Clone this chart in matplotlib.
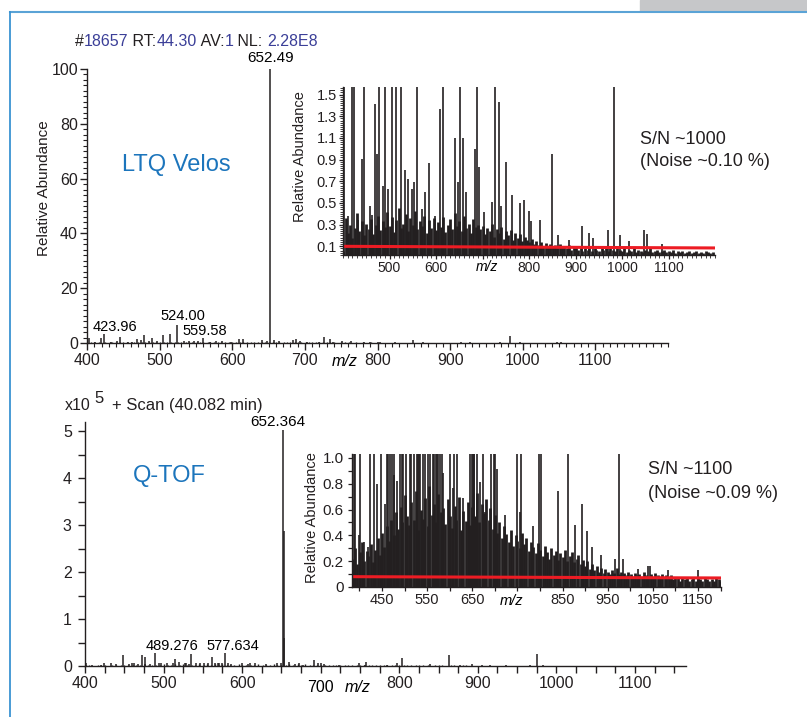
import numpy as np
import matplotlib.pyplot as plt
from matplotlib.ticker import MultipleLocator
from matplotlib.lines import Line2D
from matplotlib.patches import Rectangle

plt.rcParams['font.family'] = ['Liberation Sans', 'DejaVu Sans']

W, H = 807, 717
INK = '#231f20'
BLUE = '#1c75bc'
NAVY = '#3b3f98'
RED = '#ed1c24'

# ---- LTQ Velos spectrum, relative abundance in % ----
ltq_mz = [403, 411, 419, 423.96, 433, 441, 446, 457, 462, 469,
          474, 478, 485, 490, 497, 505, 514, 524.00, 533, 540,
          548, 553, 559.58, 569, 577, 586, 598, 609, 615, 641,
          648, 652.49, 657, 665, 684, 688, 693, 703, 720, 727,
          735, 739, 751, 763, 781, 789, 800, 804, 824, 849,
          863, 887, 915, 928, 937, 969, 983, 996, 1014, 1047,
          1053, 1085]
ltq_ab = [1.7, 0.38, 1.9, 3.3, 0.34, 0.91, 2.2, 0.47, 0.39, 1.41,
          0.95, 2.9, 0.66, 1.8, 0.63, 3.1, 3.3, 6.6, 0.80, 0.72,
          0.63, 0.69, 1.9, 0.44, 0.60, 0.87, 0.38, 1.37, 1.6, 1.1,
          0.69, 100, 1.1, 0.60, 1.0, 1.6, 0.83, 0.42, 0.51, 2.3,
          1.43, 0.47, 0.88, 0.57, 0.50, 0.53, 0.43, 0.33, 0.34, 0.95,
          0.20, 0.16, 0.29, 0.22, 0.18, 0.25, 2.6, 0.20, 0.15, 0.25,
          0.21, 0.12]

ltq_noise_mz = [401, 406, 410, 416, 420, 425, 431, 435, 440, 446, 450, 455, 461, 465, 470, 476, 480, 485, 491, 495,
                500, 506, 510, 515, 521, 525, 530, 536, 540, 545, 551, 555, 560, 566, 570, 575, 581, 585, 590, 596,
                600, 605, 611, 615, 620, 626, 630, 635, 641, 645, 650, 656, 660, 665, 671, 675, 680, 686, 690, 695,
                701, 705, 710, 716, 720, 725, 731, 735, 740, 746, 750, 755, 761, 765, 770, 776, 780, 785, 791, 795,
                800, 806, 810, 815, 821, 825, 830, 836, 840, 845, 851, 855, 860, 866, 870, 875, 881, 885, 890, 896,
                900, 905, 911, 915, 920, 926, 930, 935, 941, 945, 950, 956, 960, 965, 971, 975, 980, 986, 990, 995,
                1001, 1005, 1010, 1016, 1020, 1025, 1031, 1035, 1040, 1046, 1050, 1055, 1061, 1065, 1070, 1076, 1080, 1085, 1091, 1095,
                1100, 1106, 1110, 1115, 1121, 1125, 1130, 1136, 1140, 1145, 1151, 1155, 1160, 1166, 1170, 1175, 1181, 1185, 1190, 1196]
ltq_noise_ab = [0.06, 0.36, 0.22, 0.30, 0.18, 0.27, 0.41, 0.24, 0.33, 0.20, 0.31, 0.26, 0.35, 0.21, 0.30, 0.38, 0.25, 0.33, 0.28, 0.42,
                0.29, 0.37, 0.23, 0.34, 0.45, 0.27, 0.31, 0.40, 0.24, 0.36, 0.30, 0.43, 0.26, 0.33, 0.29, 0.38, 0.22, 0.34, 0.27, 0.36,
                0.25, 0.32, 0.28, 0.37, 0.23, 0.30, 0.35, 0.26, 0.41, 0.29, 0.33, 0.24, 0.38, 0.27, 0.31, 0.22, 0.35, 0.28, 0.30, 0.26,
                0.29, 0.21, 0.27, 0.24, 0.31, 0.19, 0.26, 0.22, 0.28, 0.17, 0.24, 0.20, 0.25, 0.16, 0.22, 0.18, 0.21, 0.15, 0.19, 0.16,
                0.14, 0.17, 0.12, 0.15, 0.11, 0.14, 0.10, 0.13, 0.09, 0.12, 0.10, 0.11, 0.08, 0.12, 0.09, 0.10, 0.08, 0.11, 0.07, 0.09,
                0.10, 0.07, 0.09, 0.06, 0.08, 0.07, 0.09, 0.06, 0.08, 0.07, 0.06, 0.08, 0.07, 0.09, 0.06, 0.08, 0.07, 0.06, 0.08, 0.07,
                0.06, 0.08, 0.05, 0.07, 0.06, 0.08, 0.05, 0.07, 0.06, 0.05, 0.07, 0.06, 0.08, 0.05, 0.06, 0.07, 0.05, 0.06, 0.07, 0.05,
                0.06, 0.05, 0.07, 0.04, 0.06, 0.05, 0.06, 0.04, 0.05, 0.06, 0.04, 0.05, 0.06, 0.04, 0.05, 0.04, 0.06, 0.05, 0.04, 0.05]

ltq_line_mz = [400, 1200]
ltq_line_ab = [0.10, 0.085]

# ---- Q-TOF spectrum, relative abundance in % (base peak = 5.04 x10^5) ----
qtof_base = 5.04
qtof_mz = [387, 390, 398, 401, 409, 420, 424, 433, 439, 448,
           456, 460, 463, 468, 472, 476, 477, 483, 489.276, 494,
           497, 504, 512, 515, 520, 527, 529, 533, 535, 541,
           546, 551, 556, 562, 565, 569, 571, 574, 577.634, 582,
           586, 600, 608, 610, 616, 630, 645, 649, 652.364, 652.86,
           653.37, 660, 667, 673, 678, 692, 697, 701, 704, 723,
           749, 756, 758, 785, 797, 803, 839, 863, 877, 892,
           905, 916, 936, 966, 975, 983, 1017, 1040, 1043, 1084,
           1150]
qtof_ab = [1.3, 1.1, 0.40, 1.2, 0.35, 0.31, 1.1, 1.2, 0.80, 4.6,
           0.64, 1.1, 1.3, 1.05, 4.6, 0.87, 3.6, 0.82, 5.3, 1.4,
           1.1, 1.2, 1.3, 2.8, 1.5, 1.1, 1.2, 1.05, 5.0, 1.3,
           1.2, 1.1, 1.4, 3.9, 1.2, 1.1, 1.3, 1.1, 5.3, 1.2,
           0.88, 1.1, 0.77, 1.3, 1.1, 0.69, 1.4, 1.2, 100, 57,
           12, 1.6, 0.81, 1.3, 0.58, 2.5, 1.2, 1.1, 0.91, 0.56,
           1.2, 0.58, 1.5, 0.47, 1.1, 3.2, 0.74, 4.6, 0.48, 0.64,
           0.43, 0.31, 0.25, 0.22, 5.1, 0.22, 0.14, 0.16, 0.16, 0.13,
           0.13]

qtof_noise_mz = [386, 390, 395, 401, 405, 410, 416, 420, 425, 431, 435, 440, 446, 450, 455, 461, 465, 470, 476, 480,
                 485, 491, 495, 500, 506, 510, 515, 521, 525, 530, 536, 540, 545, 551, 555, 560, 566, 570, 575, 581,
                 585, 590, 596, 600, 605, 611, 615, 620, 626, 630, 635, 641, 645, 650, 656, 660, 665, 671, 675, 680,
                 686, 690, 695, 701, 705, 710, 716, 720, 725, 731, 735, 740, 746, 750, 755, 761, 765, 770, 776, 780,
                 785, 791, 795, 800, 806, 810, 815, 821, 825, 830, 836, 840, 845, 851, 855, 860, 866, 870, 875, 881,
                 885, 890, 896, 900, 905, 911, 915, 920, 926, 930, 935, 941, 945, 950, 956, 960, 965, 971, 975, 980,
                 986, 990, 995, 1001, 1005, 1010, 1016, 1020, 1025, 1031, 1035, 1040, 1046, 1050, 1055, 1061, 1065, 1070, 1076, 1080,
                 1085, 1091, 1095, 1100, 1106, 1110, 1115, 1121, 1125, 1130, 1136, 1140, 1145, 1151, 1155, 1160, 1166, 1170, 1175, 1181,
                 1185, 1190, 1196, 1199]
qtof_noise_ab = [0.22, 0.30, 0.18, 0.27, 0.35, 0.20, 0.28, 0.24, 0.33, 0.19, 0.29, 0.38, 0.25, 0.42, 0.31, 0.47, 0.36, 0.52, 0.40, 0.58,
                 0.45, 0.62, 0.50, 0.71, 0.55, 0.48, 0.66, 0.52, 0.74, 0.44, 0.60, 0.53, 0.69, 0.47, 0.78, 0.56, 0.64, 0.50, 0.72, 0.58,
                 0.61, 0.49, 0.68, 0.55, 0.46, 0.63, 0.52, 0.70, 0.44, 0.59, 0.51, 0.66, 0.48, 0.62, 0.55, 0.73, 0.50, 0.64, 0.57, 0.68,
                 0.52, 0.61, 0.45, 0.56, 0.42, 0.50, 0.38, 0.47, 0.41, 0.35, 0.44, 0.32, 0.40, 0.36, 0.30, 0.42, 0.33, 0.38, 0.28, 0.35,
                 0.31, 0.26, 0.34, 0.29, 0.24, 0.32, 0.27, 0.22, 0.30, 0.25, 0.28, 0.21, 0.26, 0.23, 0.29, 0.20, 0.24, 0.27, 0.19, 0.22,
                 0.25, 0.18, 0.21, 0.16, 0.20, 0.14, 0.18, 0.13, 0.16, 0.12, 0.15, 0.11, 0.14, 0.12, 0.10, 0.13, 0.11, 0.15, 0.10, 0.12,
                 0.11, 0.09, 0.12, 0.10, 0.08, 0.11, 0.09, 0.10, 0.08, 0.12, 0.09, 0.07, 0.10, 0.08, 0.11, 0.09, 0.07, 0.10, 0.08, 0.09,
                 0.07, 0.09, 0.06, 0.08, 0.07, 0.05, 0.08, 0.06, 0.07, 0.05, 0.06, 0.08, 0.05, 0.07, 0.06, 0.05, 0.07, 0.06, 0.05, 0.06,
                 0.05, 0.07, 0.06, 0.05]

qtof_line_mz = [385, 1200]
qtof_line_ab = [0.08, 0.07]

main_ticks = [400, 500, 600, 700, 800, 900, 1000, 1100]

fig = plt.figure(figsize=(W / 100, H / 100), dpi=100)


def px_axes(x0, y0, x1, y1):
    ax = fig.add_axes([x0 / W, 1 - y1 / H, (x1 - x0) / W, (y1 - y0) / H])
    ax.patch.set_alpha(0)
    for s in ('top', 'right'):
        ax.spines[s].set_visible(False)
    for s in ('left', 'bottom'):
        ax.spines[s].set_color(INK)
        ax.spines[s].set_linewidth(1.0)
    ax.tick_params(which='both', direction='out', colors=INK)
    return ax


def ftext(x, y, s, **kw):
    return fig.text(x / W, 1 - y / H, s, color=kw.pop('color', INK), **kw)


# ---------------- top: LTQ Velos ----------------
ax1 = px_axes(87, 69, 668, 343)
ax1.vlines(ltq_noise_mz, 0, ltq_noise_ab, color=INK, lw=1.0)
ax1.vlines(ltq_mz, 0, ltq_ab, color=INK, lw=1.1)
ax1.set_xlim(400, 1200)
ax1.set_ylim(0, 100)
ax1.set_xticks(main_ticks)
ax1.xaxis.set_minor_locator(MultipleLocator(10))
ax1.yaxis.set_major_locator(MultipleLocator(20))
ax1.yaxis.set_minor_locator(MultipleLocator(2))
ax1.tick_params(which='major', length=5, width=1, labelsize=11.5, pad=2)
ax1.tick_params(axis='y', which='major', pad=1.5)
ax1.tick_params(which='minor', length=3, width=0.8)
ax1.text(755, -0.066, 'm/z', style='italic', fontsize=11.5, ha='center', va='center',
         transform=ax1.get_xaxis_transform())
ax1.text(652.49, 101.5, '652.49', fontsize=11, ha='center', va='bottom')
ax1.text(408, 5.8, '423.96', fontsize=10.5, ha='left', va='center')
ax1.text(532, 9.9, '524.00', fontsize=10.5, ha='center', va='center')
ax1.text(562.5, 4.4, '559.58', fontsize=10.5, ha='center', va='center')
ftext(44, 188, 'Relative Abundance', rotation=90, ha='center', va='center', fontsize=11)
ftext(122, 165, 'LTQ Velos', color=BLUE, fontsize=17, ha='left', va='center')

# header with coloured values
rend = fig.canvas.get_renderer()
hx = 75
for s, c in [('#', INK), ('18657', NAVY), (' RT:', INK), ('44.30', NAVY),
             (' AV:', INK), ('1', NAVY), (' NL: ', INK), ('2.28E8', NAVY)]:
    t = ftext(hx, 46, s, color=c, fontsize=11.5, ha='left', va='baseline')
    hx += t.get_window_extent(rend).width

# inset
ax2 = px_axes(343, 87, 715, 255)
ax2.vlines(ltq_noise_mz, 0, ltq_noise_ab, color=INK, lw=2.0)
ax2.vlines(ltq_mz, 0, ltq_ab, color=INK, lw=1.2)
ax2.plot(ltq_line_mz, ltq_line_ab, color=RED, lw=2.2)
ax2.set_xlim(400, 1200)
ax2.set_ylim(0.02, 1.57)
ax2.set_yticks([0.1, 0.3, 0.5, 0.7, 0.9, 1.1, 1.3, 1.5])
ax2.set_yticklabels(['0.1', '0.3', '0.5', '0.7', '0.9', '1.1', '1.3', '1.5'])
ax2.yaxis.set_minor_locator(MultipleLocator(0.02))
ax2.set_xticks([500, 600, 700, 800, 900, 1000, 1100])
ax2.set_xticklabels(['500', '600', '', '800', '900', '1000', '1100'])
ax2.xaxis.set_minor_locator(MultipleLocator(10))
ax2.tick_params(which='major', length=3, width=0.9, labelsize=10, pad=1.5)
ax2.tick_params(axis='y', which='major', labelsize=10.5)
ax2.tick_params(which='minor', length=2, width=0.6)
ax2.text(710, -0.071, 'm/z', style='italic', fontsize=10, ha='center', va='center',
         transform=ax2.get_xaxis_transform())
ftext(300, 157, 'Relative Abundance', rotation=90, ha='center', va='center', fontsize=10.5)
ftext(640, 140, 'S/N ~1000', fontsize=13, ha='left', va='center')
ftext(640, 162, '(Noise ~0.10 %)', fontsize=13, ha='left', va='center')

# ---------------- bottom: Q-TOF ----------------
qtof_abs = np.array(qtof_ab) * qtof_base / 100
qtof_noise_abs = np.array(qtof_noise_ab) * qtof_base / 100

ax3 = px_axes(85, 422, 686, 666)
ax3.vlines(qtof_noise_mz, 0, qtof_noise_abs, color=INK, lw=1.0)
ax3.vlines(qtof_mz, 0, qtof_abs, color=INK, lw=1.1)
ax3.set_xlim(400, 1165)
ax3.set_ylim(0, 5.2)
ax3.set_xticks(main_ticks)
ax3.set_xticklabels(['400', '500', '600', '', '800', '900', '1000', '1100'])
ax3.xaxis.set_minor_locator(MultipleLocator(25))
ax3.set_yticks([0, 1, 2, 3, 4, 5])
ax3.yaxis.set_minor_locator(MultipleLocator(0.5))
ax3.tick_params(which='both', length=5, width=1)
ax3.tick_params(which='major', labelsize=11.5, pad=2.5)
ax3.tick_params(axis='y', which='major', pad=4.5)
ax3.text(700, -0.09, '700', fontsize=11.5, ha='center', va='center',
         transform=ax3.get_xaxis_transform())
ax3.text(746.5, -0.09, 'm/z', style='italic', fontsize=11.5, ha='center', va='center',
         transform=ax3.get_xaxis_transform())
ax3.text(646, 5.21, '652.364', fontsize=11, ha='center', va='center')
ax3.text(511, 0.43, '489.276', fontsize=10.5, ha='center', va='center')
ax3.text(588.5, 0.43, '577.634', fontsize=10.5, ha='center', va='center')
ftext(133, 476, 'Q-TOF', color=BLUE, fontsize=17, ha='left', va='center')
ftext(65, 410, 'x10', fontsize=11.5, ha='left', va='baseline')
ftext(94, 403, '5', fontsize=12, ha='left', va='baseline')
ftext(112, 410, '+ Scan (40.082 min)', fontsize=12, ha='left', va='baseline')

# inset
ax4 = px_axes(352, 454, 721, 587)
ax4.vlines(qtof_noise_mz, 0, qtof_noise_ab, color=INK, lw=2.0)
ax4.vlines(qtof_mz, 0, qtof_ab, color=INK, lw=1.2)
ax4.plot(qtof_line_mz, qtof_line_ab, color=RED, lw=2.2)
ax4.set_xlim(383.5, 1201)
ax4.set_ylim(0, 1.03)
ax4.set_yticks([0, 0.2, 0.4, 0.6, 0.8, 1.0])
ax4.set_yticklabels(['0', '0.2', '0.4', '0.6', '0.8', '1.0'])
ax4.yaxis.set_minor_locator(MultipleLocator(0.1))
ax4.set_xticks([450, 550, 650, 750, 850, 950, 1050, 1150])
ax4.set_xticklabels(['450', '550', '650', '', '850', '950', '1050', '1150'])
ax4.xaxis.set_minor_locator(MultipleLocator(50))
ax4.tick_params(which='both', length=3, width=0.9)
ax4.tick_params(which='major', labelsize=10.5, pad=1.5)
ax4.tick_params(axis='y', which='major', pad=3, labelsize=11)
ax4.text(738, -0.105, 'm/z', style='italic', fontsize=10.5, ha='center', va='center',
         transform=ax4.get_xaxis_transform())
ftext(312, 518, 'Relative Abundance', rotation=90, ha='center', va='center', fontsize=10.5)
ftext(648, 470, 'S/N ~1100', fontsize=13, ha='left', va='center')
ftext(648, 494, '(Noise ~0.09 %)', fontsize=13, ha='left', va='center')

# page frame
fig.add_artist(Rectangle((640 / W, 1 - 10.5 / H), (W - 640) / W, 10.5 / H,
                         color='#c6c7c9', transform=fig.transFigure))
fig.add_artist(Line2D([10 / W, 1], [1 - 11.5 / H] * 2, color='#5aa3d6', lw=1.5))
fig.add_artist(Line2D([10 / W, 10 / W], [0, 1 - 11.5 / H], color='#3a93d2', lw=1.3))

fig.savefig('out.png', dpi=100)
